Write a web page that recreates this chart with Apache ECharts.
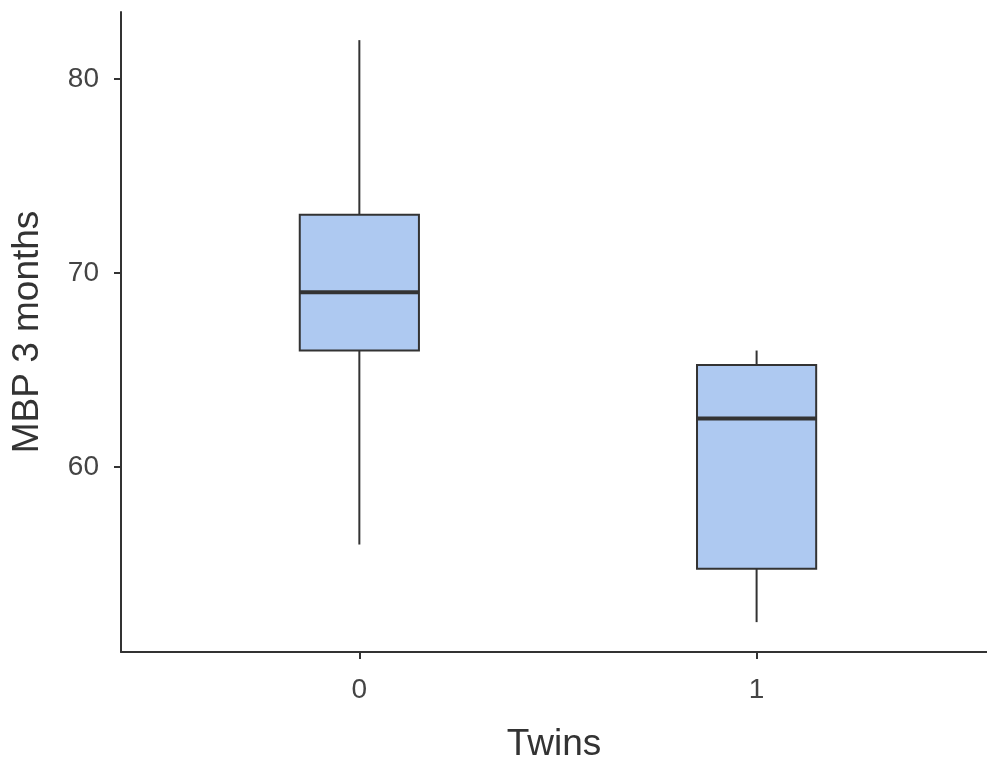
<!DOCTYPE html>
<html>
<head>
<meta charset="utf-8">
<script src="https://cdn.jsdelivr.net/npm/echarts@6/dist/echarts.min.js"></script>
<style>
  html, body { margin: 0; padding: 0; background: #fff; }
  #chart { width: 987px; height: 762px; }
</style>
</head>
<body>
<div id="chart"></div>
<script>
// Five-number summaries of MBP at 3 months, by twin status
const categories = ['0', '1'];
const positions = [0, 1];
const lowWhisker = [56, 52];
const q1 = [66, 54.75];
const median = [69, 62.5];
const q3 = [73, 65.25];
const highWhisker = [82, 66];
const yTicks = [60, 70, 80];

const BOX_WIDTH = 0.3;      // box width in x-axis units
const INK = '#333333';
const FILL = '#aec9f1';

const rows = positions.map((x, i) => [x, lowWhisker[i], q1[i], median[i], q3[i], highWhisker[i]]);

function renderBox(params, api) {
  const x = api.value(0);
  const lo = api.coord([x, api.value(1)]);
  const b1 = api.coord([x, api.value(2)]);
  const md = api.coord([x, api.value(3)]);
  const b3 = api.coord([x, api.value(4)]);
  const hi = api.coord([x, api.value(5)]);
  const half = api.size([BOX_WIDTH, 0])[0] / 2;
  const cx = md[0];
  return {
    type: 'group',
    children: [
      { type: 'line', shape: { x1: cx, y1: hi[1], x2: cx, y2: b3[1] },
        style: { stroke: INK, lineWidth: 2 } },
      { type: 'line', shape: { x1: cx, y1: b1[1], x2: cx, y2: lo[1] },
        style: { stroke: INK, lineWidth: 2 } },
      { type: 'rect', shape: { x: cx - half, y: b3[1], width: half * 2, height: b1[1] - b3[1] },
        style: { fill: FILL, stroke: INK, lineWidth: 2 } },
      { type: 'line', shape: { x1: cx - half, y1: md[1], x2: cx + half, y2: md[1] },
        style: { stroke: INK, lineWidth: 4 } }
    ]
  };
}

const chart = echarts.init(document.getElementById('chart'), null, { renderer: 'canvas' });
chart.setOption({
  animation: false,
  backgroundColor: '#ffffff',
  grid: { left: 121, right: 0, top: 12, bottom: 110, containLabel: false, outerBoundsMode: 'none' },
  xAxis: {
    type: 'value',
    min: -0.6,
    max: 1.58,
    name: 'Twins',
    nameLocation: 'middle',
    nameGap: 74,
    nameTextStyle: { fontFamily: 'Liberation Sans', fontSize: 37, color: INK },
    axisLine: { show: true, onZero: false, lineStyle: { color: INK, width: 2 } },
    axisTick: { show: true, length: 7, customValues: positions, lineStyle: { color: INK, width: 2 } },
    axisLabel: {
      customValues: positions,
      formatter: v => categories[positions.indexOf(Math.round(v))] ?? '',
      fontFamily: 'Liberation Sans', fontSize: 28, color: '#444', margin: 24
    },
    splitLine: { show: false }
  },
  yAxis: {
    type: 'value',
    min: 50.46,
    max: 83.45,
    name: 'MBP 3 months',
    nameLocation: 'middle',
    nameGap: 75,
    nameTextStyle: { fontFamily: 'Liberation Sans', fontSize: 37, color: INK },
    axisLine: { show: true, onZero: false, lineStyle: { color: INK, width: 2 } },
    axisTick: { show: true, length: 7, customValues: yTicks, lineStyle: { color: INK, width: 2 } },
    axisLabel: {
      customValues: yTicks,
      fontFamily: 'Liberation Sans', fontSize: 28, color: '#444', margin: 22
    },
    splitLine: { show: false }
  },
  series: [{
    type: 'custom',
    renderItem: renderBox,
    encode: { x: 0, y: [1, 2, 3, 4, 5] },
    data: rows,
    clip: false
  }]
});
</script>
</body>
</html>
